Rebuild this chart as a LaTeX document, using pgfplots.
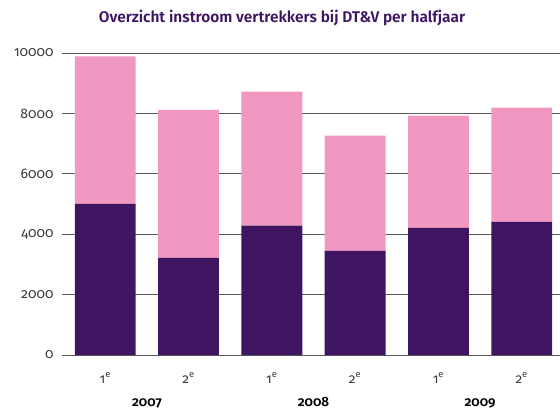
\documentclass[border=0pt]{standalone}
\usepackage{fontspec}
\setmainfont{Fira Sans}[Numbers={OldStyle,Proportional}]
\newfontfamily\semib{Fira Sans SemiBold}[Numbers={OldStyle,Proportional}]
\usepackage{pgfplots}
\pgfplotsset{compat=1.18}
\usetikzlibrary{calc}
\definecolor{dpurple}{HTML}{3F1562}
\definecolor{pinkc}{HTML}{F098C1}
\definecolor{gridc}{HTML}{5A5A5A}
\definecolor{labc}{HTML}{3A3A3A}
\begin{document}
\begin{tikzpicture}
\begin{axis}[
  name=ax,
  scale only axis,
  width=498bp, height=302bp,
  xmin=-0.52, xmax=5.46,
  ymin=0, ymax=10000,
  ybar stacked,
  bar width=0.73,
  axis line style={draw=none},
  major tick length=0,
  ytick={0,2000,4000,6000,8000,10000},
  scaled y ticks=false,
  ymajorgrids,
  grid style={gridc, line width=0.9bp},
  xtick={0,1,2,3,4,5},
  xticklabels={1\textsuperscript{e},2\textsuperscript{e},1\textsuperscript{e},2\textsuperscript{e},1\textsuperscript{e},2\textsuperscript{e}},
  extra x ticks={0.5,2.5,4.5},
  extra x tick labels={{\semib\color{black}2007},{\semib\color{black}2008},{\semib\color{black}2009}},
  extra x tick style={tick label style={anchor=base, yshift=-23bp}},
  xticklabel style={font=\fontsize{13.5}{14}\selectfont, text=labc, anchor=base, yshift=-28bp},
  yticklabel style={font=\fontsize{14}{15}\selectfont, text=labc, anchor=east, xshift=-5bp},
  /pgf/number format/assume math mode=true,
  /pgf/number format/set thousands separator={},
  clip=false,
]
\addplot[fill=dpurple, draw=none] coordinates {(0,5000) (1,3220) (2,4280) (3,3450) (4,4210) (5,4410)};
\addplot[fill=pinkc, draw=none] coordinates {(0,4890) (1,4900) (2,4440) (3,3810) (4,3720) (5,3780)};
\end{axis}
\node[font=\fontsize{15.5}{17}\selectfont\semib, text=dpurple] at ($(ax.north west)+(220bp,35bp)$) {Overzicht instroom vertrekkers bij DT\&V per halfjaar};
\pgfresetboundingbox
\path[use as bounding box] ($(ax.south west)+(-62bp,-54bp)$) rectangle ($(ax.north east)+(0,53bp)$);
\end{tikzpicture}
\end{document}
